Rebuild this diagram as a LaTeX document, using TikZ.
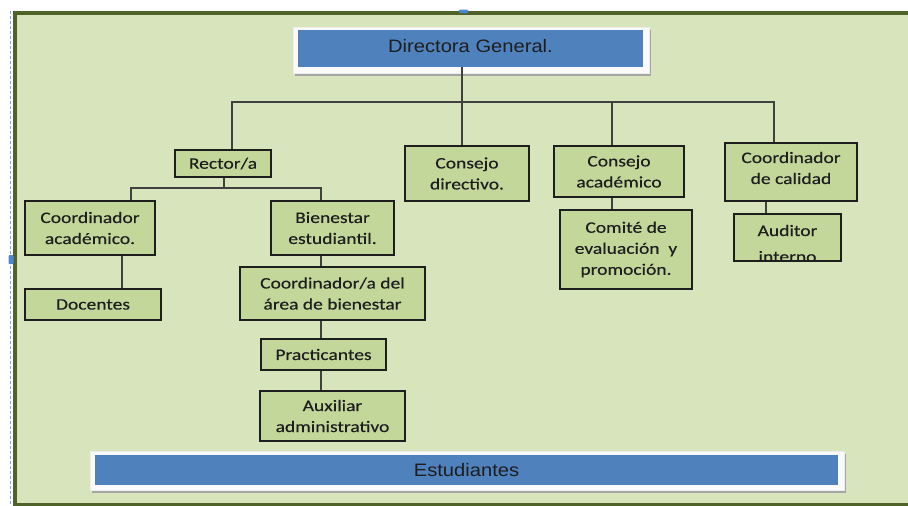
\documentclass[tikz,border=0pt]{standalone}
\usepackage{fontspec}
\setmainfont[FakeStretch=1.22,FakeBold=0.4]{Carlito}
\newfontfamily\arialf[FakeStretch=1.12]{Liberation Sans}
\definecolor{panel}{HTML}{D8E4BC}
\definecolor{boxfill}{HTML}{C4D79B}
\definecolor{olive}{HTML}{4F6228}
\definecolor{bluefill}{HTML}{4F81BD}
\definecolor{txtc}{HTML}{1E1E1E}
\definecolor{handle}{HTML}{4A86D8}
\tikzset{
  bx/.style={draw=txtc, line width=1.2pt, fill=boxfill, text=txtc, align=center,
    inner sep=0pt, font=\fontsize{16}{21}\selectfont},
  conn/.style={draw=txtc!85, line width=1.2pt},
  bluebox/.style={fill=bluefill, draw=none, inner sep=0pt, text=txtc,
    font=\arialf\fontsize{18}{22}\selectfont},
  bluetext/.style={inner sep=0pt, text=txtc, font=\arialf\fontsize{18}{22}\selectfont},
  framebox/.style={fill=white!96!gray, draw=white!85!gray, line width=0.6pt},
  shadowbox/.style={fill=gray!70, draw=none},
}
\begin{document}
\begin{tikzpicture}[x=1pt,y=-1pt]
\useasboundingbox (0,0) rectangle (908,506);
\fill[white] (0,0) rectangle (908,506);
% panel
\fill[panel] (13,11) rectangle (908,505);
\fill[olive] (13,11) rectangle (908,14.5);
\fill[olive] (13,11) rectangle (16.5,506);
\fill[olive] (13,502.5) rectangle (908,506);
\draw[handle!70, line width=1pt, dash pattern=on 3pt off 2pt] (10,11) -- (10,506);
\fill[handle, rounded corners=1pt] (8.5,255) rectangle (13.5,264);
\fill[handle, rounded corners=1pt] (459,9.5) rectangle (468,13);

% top blue box
\fill[shadowbox] (295,30) rectangle (651,76);
\fill[framebox] (293,27) rectangle (649,73);
\node[bluebox, minimum width=345, minimum height=37] (dg) at (470.5,48.5) {};
\node[bluetext, anchor=base] (dgt) at (470.5,52) {Directora General.};

% bottom blue box
\fill[shadowbox] (92,454) rectangle (846,493);
\fill[framebox] (90,451) rectangle (844,490);
\node[bluebox, minimum width=743, minimum height=30] (est) at (466.5,470) {};
\node[bluetext, anchor=base] (estt) at (466.5,476) {Estudiantes};

% junction coordinates
\coordinate (b0) at (462,102);
\coordinate (bL) at (232,102);
\coordinate (bA) at (612,102);
\coordinate (bR) at (774,102);
\coordinate (r0) at (224,188);
\coordinate (rL) at (131,188);
\coordinate (rR) at (321,188);
\coordinate (dx) at (122,0);
\coordinate (ax) at (766,0);

% box positions (drawn after connectors)
\path
  node[minimum width=96, minimum height=27] (rector) at (223,163.5) {}
  node[minimum width=130, minimum height=54] (cacad) at (90,228) {}
  node[minimum width=123, minimum height=54] (bien) at (332.5,228) {}
  node[minimum width=136, minimum height=31] (doc) at (93,304.5) {}
  node[minimum width=185, minimum height=53] (coordb) at (332.5,293.5) {}
  node[minimum width=125, minimum height=31] (pract) at (323.5,354.5) {}
  node[minimum width=145, minimum height=50] (aux) at (332.5,416) {}
  node[minimum width=124, minimum height=55] (cdir) at (467,173.5) {}
  node[minimum width=130, minimum height=51] (cacm) at (619,171.5) {}
  node[minimum width=132, minimum height=79] (comite) at (626,249.5) {}
  node[minimum width=132, minimum height=58] (ccal) at (791,172) {}
  node[minimum width=107, minimum height=47] (aud) at (787.5,237.5) {};

% connectors
\draw[conn] (b0 |- dg.south) -- (b0 |- cdir.north);
\draw[conn] (bL |- rector.north) -- (bL) -- (bR) -- (bR |- ccal.north);
\draw[conn] (bA) -- (bA |- cacm.north);
\draw[conn] (r0 |- rector.south) -- (r0);
\draw[conn] (rL |- cacad.north) -- (rL) -- (rR) -- (rR |- bien.north);
\draw[conn] (dx |- cacad.south) -- (dx |- doc.north);
\draw[conn] (rR |- bien.south) -- (rR |- coordb.north);
\draw[conn] (rR |- coordb.south) -- (rR |- pract.north);
\draw[conn] (rR |- pract.south) -- (rR |- aux.north);
\draw[conn] (bA |- cacm.south) -- (bA |- comite.north);
\draw[conn] (ax |- ccal.south) -- (ax |- aud.north);

% boxes drawn
\node[bx, minimum width=96, minimum height=27] at (rector) {Rector/a};
\node[bx, minimum width=130, minimum height=54] at (cacad) {Coordinador\\académico.};
\node[bx, minimum width=123, minimum height=54] at (bien) {Bienestar\\estudiantil.};
\node[bx, minimum width=136, minimum height=31] at (doc) {Docentes};
\node[bx, minimum width=185, minimum height=53] at (coordb) {Coordinador/a del\\área de bienestar};
\node[bx, minimum width=125, minimum height=31] at (pract) {Practicantes};
\node[bx, minimum width=145, minimum height=50] at (aux) {Auxiliar\\administrativo};
\node[bx, minimum width=124, minimum height=55] at (cdir) {Consejo\\directivo.};
\node[bx, minimum width=130, minimum height=51] at (cacm) {Consejo\\académico};
\node[bx, minimum width=132, minimum height=79] at (comite) {Comité de\\evaluación\ \ y\\promoción.};
\node[bx, minimum width=132, minimum height=58] at (ccal) {};
\node[text=txtc, align=center, inner sep=0pt, font=\fontsize{16}{21}\selectfont] (ccalt) at ([yshift=4pt]ccal) {Coordinador\\de calidad};
\node[bx, minimum width=107, minimum height=47] at (aud) {};
\begin{scope}
\clip ([xshift=0.6pt,yshift=0.6pt]aud.south west) rectangle ([xshift=-0.6pt,yshift=-0.6pt]aud.north east);
\node[text=txtc, font=\fontsize{16}{21}\selectfont, anchor=base, inner sep=0pt] (audt1) at (787.5,236) {Auditor};
\node[text=txtc, font=\fontsize{16}{21}\selectfont, anchor=base, inner sep=0pt] (audt2) at (787.5,262) {interno};
\end{scope}
\end{tikzpicture}
\end{document}
